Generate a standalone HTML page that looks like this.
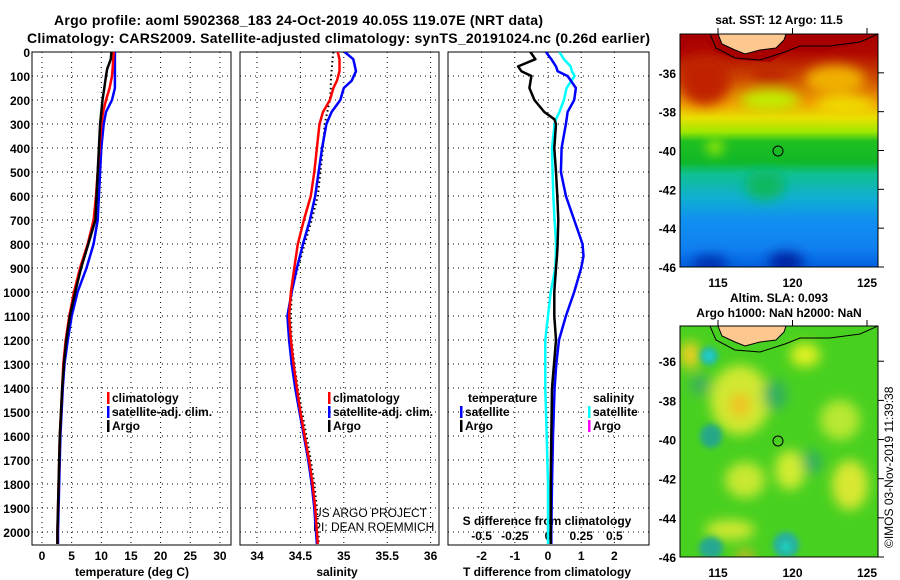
<!DOCTYPE html>
<html><head><meta charset="utf-8">
<style>
html,body{margin:0;padding:0;background:#fff;}
svg{display:block;font-family:"Liberation Sans",sans-serif;}
.t{font-weight:bold;font-size:12px;fill:#000;}
</style></head>
<body>
<svg id="fig" width="900" height="580" viewBox="0 0 900 580" xmlns="http://www.w3.org/2000/svg">
<defs>
<filter id="bl" x="-50%" y="-50%" width="200%" height="200%"><feGaussianBlur stdDeviation="6"/></filter>
<filter id="bl2" x="-50%" y="-50%" width="200%" height="200%"><feGaussianBlur stdDeviation="3"/></filter>
<clipPath id="c1"><rect x="32" y="52" width="199" height="493"/></clipPath>
<clipPath id="c2"><rect x="240" y="52" width="199" height="493"/></clipPath>
<clipPath id="c3"><rect x="448" y="52" width="201" height="493"/></clipPath>
<clipPath id="cm1"><rect x="680" y="34" width="198" height="233"/></clipPath>
<clipPath id="cm2"><rect x="680" y="326" width="198" height="231"/></clipPath>
<linearGradient id="sst" x1="0" y1="0" x2="0" y2="1">
<stop offset="0" stop-color="#a80000"/><stop offset="0.08" stop-color="#b00800"/>
<stop offset="0.2" stop-color="#d05000"/><stop offset="0.3" stop-color="#f0a000"/>
<stop offset="0.36" stop-color="#e8e000"/><stop offset="0.42" stop-color="#a0e800"/>
<stop offset="0.46" stop-color="#20c020"/><stop offset="0.55" stop-color="#10b828"/>
<stop offset="0.6" stop-color="#10c090"/><stop offset="0.7" stop-color="#10b0d0"/>
<stop offset="0.8" stop-color="#1090f0"/><stop offset="0.92" stop-color="#1080f0"/>
<stop offset="1" stop-color="#0060e0"/></linearGradient>
</defs>
<g id="titles">
<text class="t" x="54" y="25" style="font-size:14px" textLength="489">Argo profile: aoml 5902368_183 24-Oct-2019 40.05S 119.07E (NRT data)</text>
<text class="t" x="27" y="43" style="font-size:14px" textLength="623">Climatology: CARS2009. Satellite-adjusted climatology: synTS_20191024.nc (0.26d earlier)</text>
</g>
<g id="panels"></g>
<g id="maps">
<g clip-path="url(#cm1)">
<rect x="680" y="34" width="198" height="233" fill="url(#sst)"/>
<g filter="url(#bl)">
<ellipse cx="705" cy="80" rx="25" ry="25" fill="#c02000"/>
<ellipse cx="770" cy="75" rx="18" ry="10" fill="#c02800"/>
<ellipse cx="835" cy="80" rx="30" ry="15" fill="#f0b000"/>
<ellipse cx="770" cy="100" rx="30" ry="10" fill="#c0f000"/>
<ellipse cx="845" cy="105" rx="30" ry="8" fill="#f0e000"/>
<ellipse cx="715" cy="147" rx="8" ry="7" fill="#b0f000"/>
<ellipse cx="765" cy="185" rx="20" ry="15" fill="#10b860"/>
<ellipse cx="710" cy="265" rx="18" ry="10" fill="#0030b0"/>
<ellipse cx="786" cy="262" rx="18" ry="10" fill="#0020a0"/>
</g>
<path d="M680,34 L878,34 L878,38 L850,46 L820,52 L790,50 L770,62 L740,60 L715,52 L705,40 L690,40 L680,52 Z" fill="#a80000"/>
<path d="M718,34 L786,34 L784,40 L776,48 L760,50 L745,54 L735,50 L722,44 Z" fill="#fcc890" stroke="#000" stroke-width="1"/>
<path d="M710,34 L716,48 L735,58 L760,60 L785,52 L800,46 L830,46 L860,42 L878,34" fill="none" stroke="#000" stroke-width="1"/>
<circle cx="778" cy="151" r="5" fill="none" stroke="#000" stroke-width="1"/>
</g>
<rect x="680" y="34" width="198" height="233" fill="none" stroke="#000" stroke-width="1"/>
<g clip-path="url(#cm2)">
<rect x="680" y="326" width="198" height="231" fill="#48d020"/>
<g filter="url(#bl)">
<ellipse cx="805" cy="355" rx="15" ry="12" fill="#e0f020"/>
<ellipse cx="740" cy="400" rx="30" ry="35" fill="#d0e830"/>
<ellipse cx="690" cy="355" rx="10" ry="14" fill="#f0d020"/>
<ellipse cx="740" cy="405" rx="10" ry="12" fill="#f0c020"/>
<ellipse cx="745" cy="480" rx="20" ry="18" fill="#c8e830"/>
<ellipse cx="790" cy="470" rx="15" ry="20" fill="#d0ec30"/>
<ellipse cx="850" cy="485" rx="18" ry="25" fill="#d8e830"/>
<ellipse cx="730" cy="530" rx="25" ry="10" fill="#d0e830"/>
<ellipse cx="745" cy="556" rx="10" ry="5" fill="#f0b020"/>
<ellipse cx="840" cy="420" rx="20" ry="20" fill="#b8e830"/>
<ellipse cx="775" cy="395" rx="12" ry="15" fill="#30b060"/>
<ellipse cx="700" cy="385" rx="10" ry="10" fill="#40b060"/>
<ellipse cx="812" cy="462" rx="10" ry="12" fill="#30b060"/>
</g>
<g filter="url(#bl2)">
<ellipse cx="709" cy="356" rx="9" ry="9" fill="#20b8b0"/><circle cx="709" cy="356" r="4" fill="#20d8d0"/>
<ellipse cx="711" cy="436" rx="11" ry="12" fill="#28a888"/>
<ellipse cx="711" cy="548" rx="12" ry="11" fill="#28a890"/>
<ellipse cx="786" cy="545" rx="13" ry="13" fill="#28b0a0"/><circle cx="786" cy="547" r="5" fill="#20d0c0"/>
</g>
<path d="M718,326 L786,326 L784,332 L776,340 L760,342 L745,346 L735,342 L722,336 Z" fill="#fcc890" stroke="#000" stroke-width="1"/>
<path d="M710,326 L716,340 L735,350 L760,352 L785,344 L800,338 L830,338 L860,334 L878,326" fill="none" stroke="#000" stroke-width="1"/>
<circle cx="778" cy="441" r="5" fill="none" stroke="#000" stroke-width="1"/>
</g>
<rect x="680" y="326" width="198" height="231" fill="none" stroke="#000" stroke-width="1"/>
<text class="t" x="779" y="24" text-anchor="middle">sat. SST: 12 Argo: 11.5</text>
<text class="t" x="779" y="302" text-anchor="middle">Altim. SLA: 0.093</text>
<text class="t" x="779" y="317" text-anchor="middle">Argo h1000: NaN h2000: NaN</text>
<text x="893" y="548" transform="rotate(-90 893 548)" style="font-size:12px">©IMOS 03-Nov-2019 11:39:38</text>
</g>
</svg>
<script>
// ---- data ----
const depthLabels=[0,100,200,300,400,500,600,700,800,900,1000,1100,1200,1300,1400,1500,1600,1700,1800,1900,2000];
const tempTicks=[0,5,10,15,20,25,30];
const salTicks=[34,34.5,35,35.5,36];
const salTickLabels=["34","34.5","35","35.5","36"];
const tdiffTicks=[-2,-1,0,1,2];
const sdiffTicks=[-0.5,-0.25,0,0.25,0.5];
const sdiffTickLabels=["-0.5","-0.25","0","0.25","0.5"];
const depthsT=[0,30,70,100,150,200,250,300,400,500,600,700,800,900,1000,1100,1200,1300,1400,1500,1600,1700,1800,1900,2000,2050];
const tempArgo=[11.7,11.6,11.0,10.8,10.5,10.2,10.0,9.8,9.6,9.4,9.2,9.0,7.8,6.6,5.6,4.7,4.1,3.7,3.4,3.2,3.0,2.9,2.8,2.7,2.6,2.6];
const tempClim=[12.1,12.0,11.9,11.8,11.4,10.8,10.3,10.0,9.7,9.4,9.1,8.7,7.7,6.4,5.4,4.6,4.0,3.6,3.4,3.2,3.0,2.9,2.8,2.7,2.6,2.6];
const tempSat=[12.3,12.3,12.3,12.3,12.3,11.8,10.8,10.4,10.0,9.8,9.6,9.4,8.7,7.5,6.0,5.0,4.35,3.8,3.5,3.3,3.1,3.0,2.9,2.8,2.7,2.7];
const depthsS=[0,30,80,120,150,200,250,300,400,500,600,700,800,900,1000,1100,1200,1300,1400,1500,1600,1700,1800,1900,2000,2050];
const salClim=[34.93,34.95,34.95,34.92,34.88,34.84,34.76,34.72,34.69,34.66,34.62,34.54,34.47,34.43,34.39,34.37,34.39,34.42,34.46,34.50,34.55,34.60,34.64,34.67,34.69,34.70];
const salSat=[35.01,35.11,35.14,35.09,35.0,34.96,34.86,34.80,34.75,34.71,34.67,34.61,34.53,34.46,34.40,34.35,34.37,34.40,34.44,34.49,34.54,34.59,34.63,34.66,34.68,34.69];
const salArgo=[34.88,34.87,34.86,34.85,34.85,34.84,34.81,34.78,34.76,34.73,34.70,34.63,34.55,34.47,34.40,34.39,34.40,34.43,34.47,34.52,34.57,34.62,34.66,34.69,34.71,34.71];
const depthsD=[0,30,60,80,100,150,200,250,280,300,400,500,600,700,800,850,900,1000,1100,1200,1300,1400,1600,1800,2000,2050];
const dTArgo=[-0.53,-0.38,-0.9,-0.8,-0.5,-0.56,-0.41,-0.11,0.19,0.24,0.19,0.24,0.28,0.31,0.29,0.27,0.24,0.19,0.19,0.24,0.18,0.12,0.1,0.08,0.08,0.08];
const dTSat=[-0.06,0.1,0.24,0.29,0.59,0.84,0.79,0.59,0.56,0.54,0.41,0.39,0.54,0.79,1.04,1.07,1.0,0.79,0.54,0.33,0.25,0.2,0.15,0.12,0.1,0.1];
const dSSat=[0.086,0.12,0.17,0.18,0.2,0.14,0.12,0.086,0.06,0.05,0.03,0.035,0.04,0.05,0.06,0.058,0.055,0.02,0,-0.02,-0.02,-0.02,-0.01,0,0,0];
const latTicks=[-36,-38,-40,-42,-44,-46];
const lonTicks=[115,120,125];

// ---- axes ----
const NS="http://www.w3.org/2000/svg";
const G=document.getElementById('panels');
const yD=d=>52+d*0.24;
const xT=t=>42+t*5.93;
const xS=s=>257+(s-34)*86.8;
const xDT=t=>548+t*33.2;
const xDS=s=>548+s*132.8;
function el(tag,attrs,parent){const e=document.createElementNS(NS,tag);for(const k in attrs)e.setAttribute(k,attrs[k]);(parent||G).appendChild(e);return e;}
function txt(x,y,s,anchor,parent,size,weight){const e=el('text',{x:x,y:y,'text-anchor':anchor||'middle'},parent);e.setAttribute('style','font-size:'+(size||12)+'px;font-weight:'+(weight||'bold'));e.textContent=s;return e;}

const panels=[{x:32,w:199,clip:'c1'},{x:240,w:199,clip:'c2'},{x:448,w:201,clip:'c3'}];
panels.forEach((p,i)=>{
  const b=el('rect',{x:p.x,y:52,width:p.w,height:493,fill:'none',stroke:'#000','stroke-width':1});
  
  
  depthLabels.forEach(d=>{
    if(d===0)return;
    const l=el('line',{x1:p.x,x2:p.x+p.w,y1:yD(d),y2:yD(d),stroke:'#000','stroke-width':1,'stroke-dasharray':'1,4'});
    
    
  });
});
depthLabels.forEach(d=>{
  const t=txt(30,yD(d)+5,String(d),'end');
  
  
});
function vgrid(xs,f,key){xs.forEach(v=>{const l=el('line',{x1:f(v),x2:f(v),y1:52,y2:545,stroke:'#000','stroke-width':1,'stroke-dasharray':'1,4'});});}
vgrid(tempTicks,xT,'temp-grid');
vgrid(salTicks,xS,'sal-grid');
vgrid(tdiffTicks,xDT,'tdiff-grid');
tempTicks.forEach(v=>{const t=txt(xT(v),560,String(v));});
salTicks.forEach((v,i)=>{const t=txt(xS(v),560,salTickLabels[i]);});
tdiffTicks.forEach(v=>{const t=txt(xDT(v),560,String(v));});
sdiffTicks.forEach((v,i)=>{const t=txt(xDS(v),540,sdiffTickLabels[i]);});
let a;
a=txt(132,576,'temperature (deg C)');
a=txt(337,576,'salinity');
a=txt(547,576,'T difference from climatology');
a=txt(547,525,'S difference from climatology');
a=txt(313,517,'US ARGO PROJECT','start',null,12,'normal');
a=txt(313,531,'PI: DEAN ROEMMICH','start',null,12,'normal');

function series(depths,vals,fx,color,clip,name,dash){
  const pts=depths.map((d,i)=>fx(vals[i]).toFixed(1)+','+yD(d).toFixed(1)).join(' ');
  const attrs={points:pts,fill:'none',stroke:color,'stroke-width':dash?2:2.5,'clip-path':'url(#'+clip+')','stroke-linejoin':'round'};
  if(dash)attrs['stroke-dasharray']='1.5,3';
  const p=el('polyline',attrs);
  
  
}
series(depthsT,tempSat,xT,'#0000ff','c1','temp-satellite-line');
series(depthsT,tempClim,xT,'#ff0000','c1','temp-climatology-line');
series(depthsT,tempArgo,xT,'#000','c1','temp-argo-line');
series(depthsS,salArgo,xS,'#000','c2','sal-argo-line',true);
series(depthsS,salSat,xS,'#0000ff','c2','sal-satellite-line');
series(depthsS,salClim,xS,'#ff0000','c2','sal-climatology-line');
series(depthsD,dSSat,xDS,'#00ffff','c3','sdiff-satellite-line');
series(depthsD,dTSat,xDT,'#0000ff','c3','tdiff-satellite-line');
series(depthsD,dTArgo,xDT,'#000','c3','tdiff-argo-line');

function leg(x,y,color,label,name){
  const r=el('rect',{x:x,y:y-10,width:2.5,height:12,fill:color});
  
  
  const t=txt(x+5,y,label,'start');
  
  
}
leg(107,402,'#ff0000','climatology','legend-climatology');
leg(107,416,'#0000ff','satellite-adj. clim.','legend-satellite');
leg(107,430,'#000','Argo','legend-argo');
leg(328,402,'#ff0000','climatology','legend2-climatology');
leg(328,416,'#0000ff','satellite-adj. clim.','legend2-satellite');
leg(328,430,'#000','Argo','legend2-argo');
a=txt(468,402,'temperature','start');
a=txt(593,402,'salinity','start');
leg(460,416,'#0000ff','satellite','legend-tdiff-satellite');
leg(460,430,'#000','Argo','legend-tdiff-argo');
leg(588,416,'#00ffff','satellite','legend-sdiff-satellite');
leg(588,430,'#ff00ff','Argo','legend-sdiff-argo');

// map axes
const M=document.getElementById('maps');
function mapAxes(top,bottom,latTop,latBot){
  const yL=l=>top+(latTop-l)/(latTop-latBot)*(bottom-top);
  const xL=l=>680+(l-112.45)*14.9;
  latTicks.forEach(l=>{
    const t=txt(676,yL(l)+5,String(l),'end',M);
    
    
    const k=el('line',{x1:878,x2:884,y1:yL(l),y2:yL(l),stroke:'#000'},M);
    
    
  });
  lonTicks.forEach(l=>{
    const t=txt(xL(l),bottom+20,String(l),'middle',M);
    
    
    const k=el('line',{x1:xL(l),x2:xL(l),y1:top-6,y2:top,stroke:'#000'},M);
    
    
  });
}
mapAxes(34,267,-34,-46);
mapAxes(326,557,-34.2,-46);
</script>
</body></html>
